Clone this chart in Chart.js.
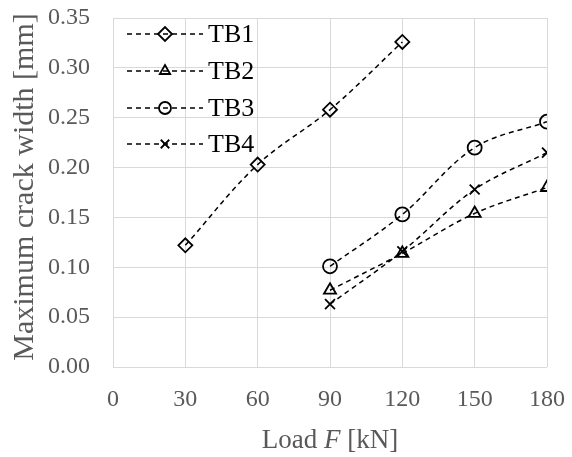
<!DOCTYPE html>
<html>
<head>
<meta charset="utf-8">
<script src="https://cdn.jsdelivr.net/npm/chart.js@4/dist/chart.umd.min.js"></script>
<style>
  html, body { margin: 0; padding: 0; background: #fff; }
  #wrap { width: 572px; height: 457px; }
</style>
</head>
<body>
<div id="wrap"><canvas id="crackChart"></canvas></div>
<script>
// load steps [kN] and max crack widths [mm]
const loadsTB1 = [30, 60, 90, 120];
const crackTB1 = [0.122, 0.203, 0.258, 0.326];
const loadsRest = [90, 120, 150, 180];
const crackTB2 = [0.077, 0.114, 0.154, 0.180];
const crackTB3 = [0.101, 0.153, 0.220, 0.246];
const crackTB4 = [0.063, 0.116, 0.178, 0.215];
const seriesNames = ['TB1', 'TB2', 'TB3', 'TB4'];
const markerStyles = ['rectRot', 'triangle', 'circle', 'crossRot'];
const xTicks = [0, 30, 60, 90, 120, 150, 180];
const yTicks = [0, 0.05, 0.10, 0.15, 0.20, 0.25, 0.30, 0.35];

const FONT = "'Liberation Serif', 'Times New Roman', serif";
const GREY_TEXT = '#595959';

const toPoints = (xs, ys) => xs.map((x, i) => ({ x: x, y: ys[i] }));

const makeSet = (idx, xs, ys) => ({
    label: seriesNames[idx],
    data: toPoints(xs, ys),
    borderColor: '#000',
    borderWidth: 1.5,
    borderDash: [5, 4],
    backgroundColor: 'rgba(0,0,0,0)',
    pointStyle: markerStyles[idx],
    pointRadius: 7,
    pointBorderWidth: 1.8,
    pointBorderColor: '#000',
    pointBackgroundColor: 'rgba(0,0,0,0)',
    tension: 0.35,
    fill: false
});

// legend drawn inside the plot: dashed line, marker in the middle, name
const insideLegend = {
    id: 'insideLegend',
    afterDatasetsDraw(chart) {
        const ctx = chart.ctx;
        const rows = [34, 71, 108, 144];
        chart.data.datasets.forEach((ds, i) => {
            const y = rows[i];
            ctx.save();
            ctx.strokeStyle = '#000';
            ctx.lineWidth = 1.5;
            ctx.setLineDash([5, 4]);
            ctx.beginPath();
            ctx.moveTo(127, y);
            ctx.lineTo(203, y);
            ctx.stroke();
            ctx.setLineDash([]);
            ctx.lineWidth = 1.8;
            ctx.fillStyle = 'rgba(0,0,0,0)';
            Chart.helpers.drawPoint(ctx, {
                pointStyle: ds.pointStyle,
                radius: i === 0 ? 7 : 6,
                borderWidth: 1.8
            }, 165, y);
            ctx.fillStyle = '#000';
            ctx.font = '26px ' + FONT;
            ctx.textBaseline = 'middle';
            ctx.textAlign = 'left';
            ctx.fillText(ds.label, 208, y + 1);
            ctx.restore();
        });
    }
};

// axis titles (x title has an italic F)
const axisTitles = {
    id: 'axisTitles',
    afterDraw(chart) {
        const ctx = chart.ctx;
        const area = chart.chartArea;
        const parts = [
            ['Load ', '27px ' + FONT],
            ['F', 'italic 27px ' + FONT],
            [' [kN]', '27px ' + FONT]
        ];
        ctx.save();
        let total = 0;
        parts.forEach(p => { ctx.font = p[1]; total += ctx.measureText(p[0]).width; });
        let x = (area.left + area.right) / 2 - total / 2;
        ctx.fillStyle = GREY_TEXT;
        ctx.textBaseline = 'alphabetic';
        ctx.textAlign = 'left';
        parts.forEach(p => {
            ctx.font = p[1];
            ctx.fillText(p[0], x, 448);
            x += ctx.measureText(p[0]).width;
        });

        ctx.translate(33, 187);
        ctx.rotate(-Math.PI / 2);
        ctx.font = '30px ' + FONT;
        ctx.textAlign = 'center';
        ctx.fillText('Maximum crack width [mm]', 0, 0);
        ctx.restore();
    }
};

new Chart(document.getElementById('crackChart').getContext('2d'), {
    type: 'line',
    data: {
        datasets: [
            makeSet(0, loadsTB1, crackTB1),
            makeSet(1, loadsRest, crackTB2),
            makeSet(2, loadsRest, crackTB3),
            makeSet(3, loadsRest, crackTB4)
        ]
    },
    options: {
        responsive: true,
        maintainAspectRatio: false,
        animation: false,
        layout: { padding: { left: 0, top: 18, right: 25, bottom: 0 } },
        plugins: {
            legend: { display: false },
            tooltip: { enabled: false }
        },
        scales: {
            x: {
                type: 'linear',
                min: 0,
                max: 180,
                afterBuildTicks: s => { s.ticks = xTicks.map(v => ({ value: v })); },
                afterFit: s => {
                    s.height = 90;
                    s.paddingLeft = 0;
                    s.paddingRight = 0;
                },
                grid: { color: '#d9d9d9', lineWidth: 1, drawTicks: false },
                border: { display: false },
                ticks: {
                    color: GREY_TEXT,
                    font: { family: FONT, size: 24 },
                    padding: 18,
                    maxRotation: 0
                }
            },
            y: {
                min: 0,
                max: 0.35,
                afterBuildTicks: s => { s.ticks = yTicks.map(v => ({ value: v })); },
                afterFit: s => {
                    s.width = 113;
                    s.paddingTop = 0;
                    s.paddingBottom = 0;
                },
                grid: { color: '#d9d9d9', lineWidth: 1, drawTicks: false },
                border: { display: false },
                ticks: {
                    color: GREY_TEXT,
                    font: { family: FONT, size: 24 },
                    padding: 23,
                    callback: v => v.toFixed(2)
                }
            }
        }
    },
    plugins: [insideLegend, axisTitles]
});
</script>
</body>
</html>
